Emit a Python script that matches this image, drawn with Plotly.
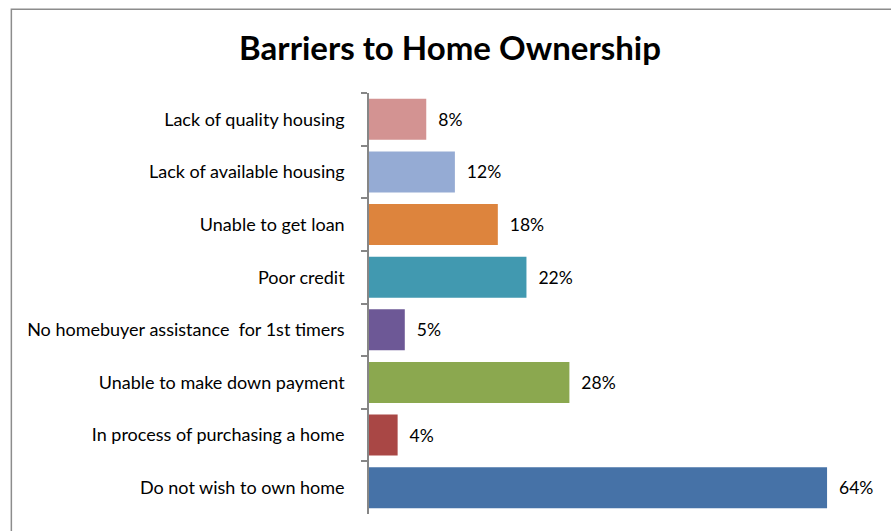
import plotly.graph_objects as go

# Survey responses, listed top to bottom
categories = [
    "Lack of quality housing",
    "Lack of available housing",
    "Unable to get loan",
    "Poor credit",
    "No homebuyer assistance  for 1st timers",
    "Unable to make down payment",
    "In process of purchasing a home",
    "Do not wish to own home",
]
percent = [8, 12, 18, 22, 5, 28, 4, 64]
bar_colors = [
    "#D39392", "#95ABD4", "#DD843D", "#4199B0",
    "#6D5896", "#8BA84F", "#A94745", "#4672A7",
]

W, H = 891, 531
ml, mr, mt, mb = 369, 20.5, 92.7, 17
pw = W - ml - mr
ph = H - mt - mb

fig = go.Figure(
    go.Bar(
        y=categories,
        x=percent,
        orientation="h",
        marker=dict(color=bar_colors, line=dict(width=0)),
        text=[f"  {v}%" for v in percent],
        textposition="outside",
        textfont=dict(family="Lato, Open Sans, sans-serif", size=17.5, color="#000000"),
        cliponaxis=False,
        width=0.78,
        hoverinfo="skip",
    )
)

# Frame around the chart area (opens off the right and bottom edges)
fig.add_shape(
    type="rect", xref="paper", yref="paper",
    x0=(11 - ml) / pw, x1=(W + 20 - ml) / pw,
    y0=(H - mb - (H + 20)) / ph, y1=(H - mb - 9) / ph,
    line=dict(color="#8C8C8C", width=1.5), fillcolor="rgba(0,0,0,0)", layer="below",
)

fig.update_layout(
    width=W, height=H,
    margin=dict(l=ml, r=mr, t=mt, b=mb, pad=0),
    paper_bgcolor="white", plot_bgcolor="white",
    showlegend=False,
    title=dict(
        text="<b>Barriers to Home Ownership</b>",
        x=(450) / W, xanchor="center",
        y=1 - 48 / H, yanchor="middle",
        font=dict(family="Lato, Open Sans, sans-serif", size=33, color="#000000"),
    ),
    xaxis=dict(range=[0, 70], visible=False, fixedrange=True),
    yaxis=dict(
        autorange="reversed",
        tickson="boundaries",
        ticks="outside", ticklen=6, tickcolor="#868686", tickwidth=1.5,
        showline=True, linecolor="#868686", linewidth=1.5,
        showgrid=False, zeroline=False,
        ticklabelstandoff=19,
        tickfont=dict(family="Lato, Open Sans, sans-serif", size=18, color="#000000"),
    ),
)

fig.write_html("out.html")
